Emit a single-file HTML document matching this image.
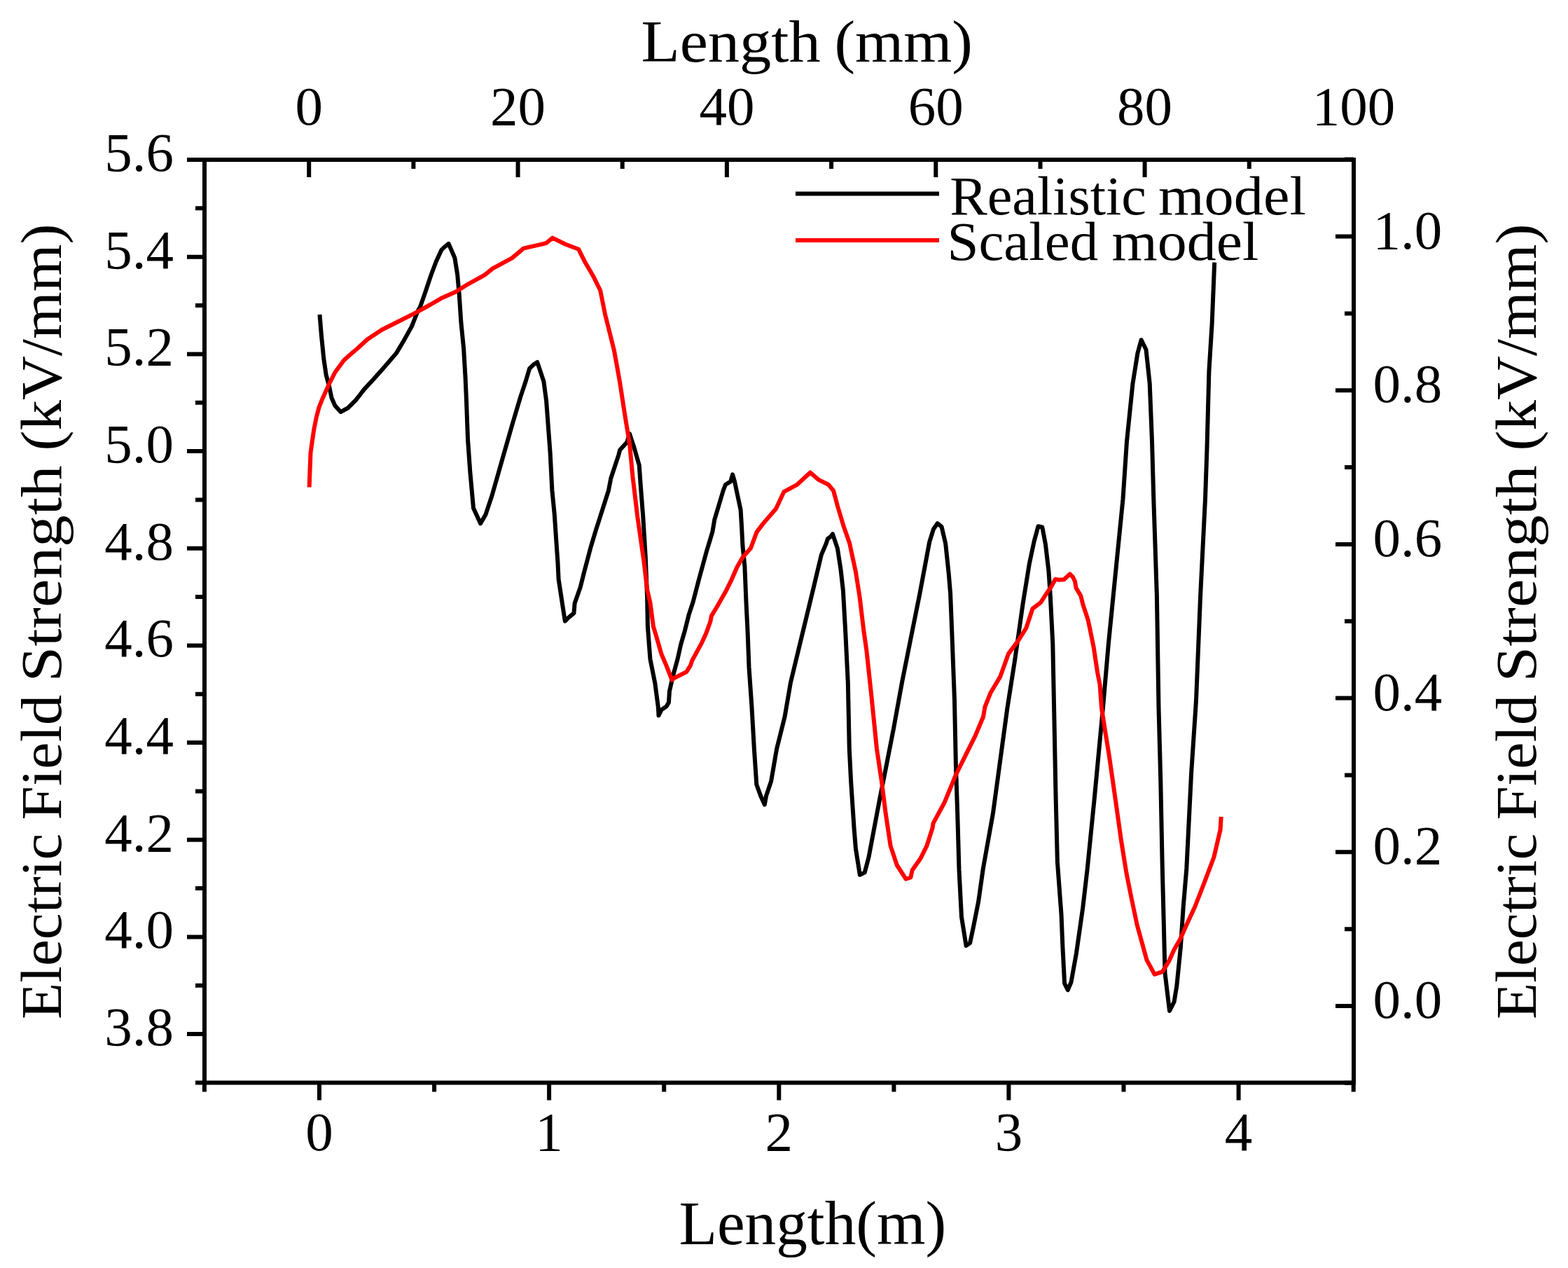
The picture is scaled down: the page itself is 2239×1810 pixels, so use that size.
<!DOCTYPE html>
<html><head><meta charset="utf-8"><title>Electric Field Strength</title>
<style>
html,body{margin:0;padding:0;background:#fff;}
body{width:2239px;height:1810px;overflow:hidden;}
svg{display:block;}
text{font-family:"Liberation Serif",serif;fill:#000;}
</style></head><body>
<svg width="2239" height="1810" viewBox="0 0 2239 1810">
<rect x="0" y="0" width="2239" height="1810" fill="#fff"/>
<path d="M292.0 228.0H267.0M292.0 297.3H279.0M292.0 366.7H267.0M292.0 436.0H279.0M292.0 505.4H267.0M292.0 574.7H279.0M292.0 644.0H267.0M292.0 713.4H279.0M292.0 782.7H267.0M292.0 852.1H279.0M292.0 921.4H267.0M292.0 990.7H279.0M292.0 1060.1H267.0M292.0 1129.4H279.0M292.0 1198.8H267.0M292.0 1268.1H279.0M292.0 1337.4H267.0M292.0 1406.8H279.0M292.0 1476.1H267.0M292.0 1545.5H279.0M291.9 1545.5V1558.5M456.0 1545.5V1570.5M620.1 1545.5V1558.5M784.1 1545.5V1570.5M948.2 1545.5V1558.5M1112.3 1545.5V1570.5M1276.4 1545.5V1558.5M1440.4 1545.5V1570.5M1604.5 1545.5V1558.5M1768.6 1545.5V1570.5M1932.7 1545.5V1558.5M292.0 228.0V241.0M441.2 228.0V253.0M590.4 228.0V241.0M739.6 228.0V253.0M888.7 228.0V241.0M1037.9 228.0V253.0M1187.1 228.0V241.0M1336.3 228.0V253.0M1485.5 228.0V241.0M1634.6 228.0V253.0M1783.8 228.0V241.0M1933.0 228.0V253.0M1933.0 1545.8H1920.0M1933.0 1436.0H1907.0M1933.0 1326.2H1920.0M1933.0 1216.3H1907.0M1933.0 1106.4H1920.0M1933.0 996.6H1907.0M1933.0 886.8H1920.0M1933.0 776.9H1907.0M1933.0 667.0H1920.0M1933.0 557.2H1907.0M1933.0 447.4H1920.0M1933.0 337.5H1907.0M1933.0 227.6H1920.0" stroke="#000" stroke-width="6" fill="none"/>
<rect x="292" y="228" width="1641" height="1317.5" stroke="#000" stroke-width="6" fill="none"/>
<polyline points="456.5,449.0 458.8,477.6 462.3,512.2 465.7,535.2 470.3,552.5 473.5,568.0 478.4,579.0 486.5,588.0 496.8,582.4 508.3,570.9 519.9,555.9 533.7,541.0 551.0,521.4 565.9,504.1 576.3,486.8 587.8,466.1 597.0,443.0 600.0,437.9 607.6,416.3 615.2,393.5 622.8,373.2 630.4,356.8 634.2,353.0 640.6,347.9 649.4,368.2 653.2,392.2 655.8,421.4 658.3,459.4 662.1,497.4 664.6,540.0 666.0,572.2 668.0,627.0 671.3,673.5 676.0,725.2 686.1,747.3 693.5,734.4 702.7,706.7 717.4,655.1 732.2,603.5 743.2,566.6 750.6,544.5 756.1,526.1 761.7,520.6 767.2,516.9 776.4,544.5 780.1,572.2 785.6,645.9 788.4,700.0 791.8,734.6 794.1,769.1 796.5,803.7 797.6,826.7 801.1,849.8 806.8,886.6 811.4,882.0 819.5,875.1 820.6,861.3 828.7,838.2 834.5,815.2 843.7,780.6 850.6,757.6 859.8,728.8 869.0,700.0 872.3,682.8 883.3,649.6 885.2,642.2 895.3,631.2 899.0,619.2 905.4,638.5 912.8,664.3 914.7,692.0 918.3,738.1 921.8,795.2 924.1,852.8 924.9,894.6 928.4,940.6 935.3,975.2 939.9,1009.8 940.5,1021.3 944.5,1013.2 951.4,1008.6 954.9,1002.9 956.0,986.7 960.6,966.0 967.6,940.6 972.2,919.9 977.9,900.3 983.7,877.3 989.4,860.0 997.9,827.5 1008.6,788.2 1017.3,759.4 1020.2,742.2 1033.1,699.0 1036.0,691.8 1043.2,687.4 1046.1,677.4 1049.0,687.4 1057.6,727.8 1059.0,750.8 1060.5,779.6 1063.4,808.4 1065.5,860.0 1067.5,900.0 1069.5,952.2 1073.5,1009.8 1076.9,1069.1 1080.3,1119.8 1086.1,1135.9 1091.8,1148.6 1094.1,1135.9 1101.1,1115.2 1109.1,1069.1 1120.6,1023.0 1129.0,974.1 1142.9,916.5 1161.3,840.5 1172.8,792.1 1179.7,775.9 1182.0,769.0 1186.6,765.6 1188.9,762.1 1195.9,782.9 1200.5,812.8 1203.9,842.8 1207.4,905.0 1210.8,974.1 1212.8,1069.1 1215.1,1115.2 1219.7,1184.3 1222.0,1212.0 1227.8,1248.8 1234.7,1245.4 1240.5,1223.5 1256.6,1138.2 1265.8,1092.2 1276.0,1040.0 1288.0,974.1 1299.5,916.5 1313.4,847.4 1327.2,773.6 1333.0,755.2 1338.7,747.1 1344.5,751.8 1350.2,775.9 1354.8,819.7 1357.1,847.4 1359.4,905.0 1363.0,1000.0 1364.9,1092.2 1367.2,1161.3 1369.5,1241.9 1373.0,1308.9 1379.6,1349.9 1385.1,1346.1 1389.8,1323.8 1397.2,1286.6 1403.8,1240.0 1417.9,1161.3 1438.5,1010.0 1449.1,942.6 1460.6,861.9 1469.9,804.3 1476.8,772.1 1482.5,751.3 1488.3,752.5 1492.9,776.7 1497.5,815.9 1499.8,850.4 1503.3,919.5 1505.0,1005.0 1507.6,1138.2 1509.9,1230.4 1515.5,1305.2 1517.4,1351.7 1520.1,1403.9 1524.8,1413.2 1529.5,1402.0 1536.9,1361.0 1546.2,1295.9 1552.7,1240.0 1562.9,1138.2 1575.0,1010.0 1582.8,919.5 1594.3,804.3 1603.5,712.2 1609.0,630.0 1617.5,547.4 1624.4,504.2 1629.6,485.2 1636.5,499.0 1641.7,547.4 1645.0,630.0 1647.3,712.2 1651.9,850.4 1654.5,1010.0 1657.3,1115.2 1659.6,1230.4 1661.7,1314.5 1663.5,1389.0 1670.0,1443.0 1676.6,1430.0 1680.3,1407.6 1685.9,1351.7 1689.6,1295.9 1694.3,1240.0 1701.1,1103.7 1708.0,1000.0 1714.1,850.4 1721.0,712.2 1723.5,640.0 1726.4,530.0 1730.7,461.0 1734.2,374.6" fill="none" stroke="#000" stroke-width="6" stroke-linejoin="round" stroke-linecap="butt"/>
<polyline points="441.6,695.5 442.5,672.4 443.5,646.4 445.9,629.1 448.5,612.0 452.0,594.6 455.5,581.6 460.5,569.0 465.5,558.0 470.0,548.0 478.4,531.5 491.1,514.3 499.1,507.0 510.6,497.2 524.5,484.5 545.2,470.7 568.2,459.2 591.3,447.6 614.3,435.0 630.0,425.8 650.4,416.8 668.8,405.3 691.9,392.6 703.4,383.4 731.1,368.4 744.9,356.9 747.2,354.6 772.5,348.8 780.0,347.0 789.0,339.6 807.6,348.8 826.1,355.7 835.3,374.1 846.8,393.7 857.2,414.5 864.1,449.0 872.2,481.3 876.8,499.7 880.0,517.0 885.0,545.0 892.7,595.0 899.0,633.0 903.4,680.0 910.3,737.6 919.5,802.1 924.1,841.3 928.4,860.0 933.0,894.6 936.5,906.1 944.5,933.7 951.4,949.9 959.5,970.6 962.0,968.3 980.2,959.1 986.0,949.9 988.3,942.9 1002.1,917.6 1008.4,903.8 1014.2,887.8 1015.9,879.1 1024.6,864.7 1036.1,844.6 1044.7,827.3 1052.2,810.0 1060.5,795.4 1072.0,782.5 1080.6,759.4 1089.3,747.9 1108.0,726.3 1119.5,701.8 1138.2,691.8 1157.0,674.5 1168.5,684.6 1182.9,691.8 1190.1,700.4 1195.9,722.0 1204.5,750.8 1213.1,775.3 1221.8,815.6 1227.5,851.6 1233.3,900.0 1237.3,928.0 1244.0,990.0 1252.0,1069.1 1258.9,1115.2 1264.7,1161.3 1271.6,1207.4 1280.8,1235.0 1293.5,1254.6 1300.4,1252.3 1302.7,1241.9 1314.2,1225.8 1323.4,1207.4 1331.5,1182.0 1332.6,1175.1 1348.8,1145.2 1364.9,1106.0 1376.4,1082.9 1392.5,1050.7 1404.1,1023.0 1406.4,1009.2 1414.6,988.7 1428.4,965.6 1439.9,933.4 1453.7,914.9 1465.3,896.5 1474.5,868.8 1486.2,859.9 1493.5,848.5 1500.7,838.1 1507.0,826.7 1511.1,827.7 1519.4,827.2 1527.7,819.4 1531.9,823.6 1535.0,829.8 1536.5,839.1 1543.3,850.5 1546.4,863.0 1553.6,884.7 1556.7,899.3 1561.9,925.2 1567.1,960.0 1570.5,977.0 1573.0,1011.0 1578.5,1046.0 1584.0,1080.0 1589.0,1115.0 1594.0,1150.0 1601.0,1200.0 1608.4,1245.9 1615.3,1280.5 1623.6,1320.0 1637.5,1370.4 1648.6,1390.8 1659.8,1387.1 1669.1,1372.2 1676.6,1355.5 1685.0,1341.0 1695.2,1318.2 1706.4,1294.0 1719.5,1260.4 1733.4,1223.5 1742.6,1184.3 1743.7,1165.9" fill="none" stroke="#ff0000" stroke-width="6" stroke-linejoin="round" stroke-linecap="butt"/>
<path d="M1136 276.5H1341" stroke="#000" stroke-width="6"/>
<path d="M1136 343H1341" stroke="#ff0000" stroke-width="6"/>
<text x="248" y="244.0" font-size="79" text-anchor="end">5.6</text>
<text x="248" y="382.7" font-size="79" text-anchor="end">5.4</text>
<text x="248" y="521.4" font-size="79" text-anchor="end">5.2</text>
<text x="248" y="660.0" font-size="79" text-anchor="end">5.0</text>
<text x="248" y="798.7" font-size="79" text-anchor="end">4.8</text>
<text x="248" y="937.4" font-size="79" text-anchor="end">4.6</text>
<text x="248" y="1076.1" font-size="79" text-anchor="end">4.4</text>
<text x="248" y="1214.8" font-size="79" text-anchor="end">4.2</text>
<text x="248" y="1353.4" font-size="79" text-anchor="end">4.0</text>
<text x="248" y="1492.1" font-size="79" text-anchor="end">3.8</text>
<text x="1960.5" y="1453.0" font-size="79">0.0</text>
<text x="1960.5" y="1233.3" font-size="79">0.2</text>
<text x="1960.5" y="1013.6" font-size="79">0.4</text>
<text x="1960.5" y="793.9" font-size="79">0.6</text>
<text x="1960.5" y="574.2" font-size="79">0.8</text>
<text x="1960.5" y="354.5" font-size="79">1.0</text>
<text x="456.0" y="1642" font-size="79" text-anchor="middle">0</text>
<text x="784.1" y="1642" font-size="79" text-anchor="middle">1</text>
<text x="1112.3" y="1642" font-size="79" text-anchor="middle">2</text>
<text x="1440.4" y="1642" font-size="79" text-anchor="middle">3</text>
<text x="1768.6" y="1642" font-size="79" text-anchor="middle">4</text>
<text x="441.2" y="178" font-size="79" text-anchor="middle">0</text>
<text x="739.6" y="178" font-size="79" text-anchor="middle">20</text>
<text x="1037.9" y="178" font-size="79" text-anchor="middle">40</text>
<text x="1336.3" y="178" font-size="79" text-anchor="middle">60</text>
<text x="1634.6" y="178" font-size="79" text-anchor="middle">80</text>
<text x="1933.0" y="178" font-size="79" text-anchor="middle">100</text>
<text x="915.4" y="88" font-size="84" textLength="256.29" lengthAdjust="spacingAndGlyphs">Length</text>
<text x="1191.5" y="88" font-size="84" textLength="197.44" lengthAdjust="spacingAndGlyphs">(mm)</text>
<text x="969.4" y="1775.7" font-size="88" textLength="381.82" lengthAdjust="spacingAndGlyphs">Length(m)</text>
<text x="1356.2" y="305.8" font-size="79" textLength="280.68" lengthAdjust="spacingAndGlyphs">Realistic</text>
<text x="1653.9" y="305.8" font-size="79" textLength="211.03" lengthAdjust="spacingAndGlyphs">model</text>
<text x="1352.4" y="371.3" font-size="79" textLength="215.75" lengthAdjust="spacingAndGlyphs">Scaled</text>
<text x="1587.6" y="371.3" font-size="79" textLength="209.75" lengthAdjust="spacingAndGlyphs">model</text>
<text x="87" y="1454.9" font-size="83" textLength="265.24" lengthAdjust="spacingAndGlyphs" transform="rotate(-90 87 1454.9)">Electric</text>
<text x="87" y="1170.4" font-size="83" textLength="178.7" lengthAdjust="spacingAndGlyphs" transform="rotate(-90 87 1170.4)">Field</text>
<text x="87" y="973.6" font-size="83" textLength="309.24" lengthAdjust="spacingAndGlyphs" transform="rotate(-90 87 973.6)">Strength</text>
<text x="87" y="643.6" font-size="83" textLength="324.02" lengthAdjust="spacingAndGlyphs" transform="rotate(-90 87 643.6)">(kV/mm)</text>
<text x="2193" y="1454.9" font-size="83" textLength="265.24" lengthAdjust="spacingAndGlyphs" transform="rotate(-90 2193 1454.9)">Electric</text>
<text x="2193" y="1170.4" font-size="83" textLength="178.7" lengthAdjust="spacingAndGlyphs" transform="rotate(-90 2193 1170.4)">Field</text>
<text x="2193" y="973.6" font-size="83" textLength="309.24" lengthAdjust="spacingAndGlyphs" transform="rotate(-90 2193 973.6)">Strength</text>
<text x="2193" y="643.6" font-size="83" textLength="324.02" lengthAdjust="spacingAndGlyphs" transform="rotate(-90 2193 643.6)">(kV/mm)</text>
</svg>
</body></html>
